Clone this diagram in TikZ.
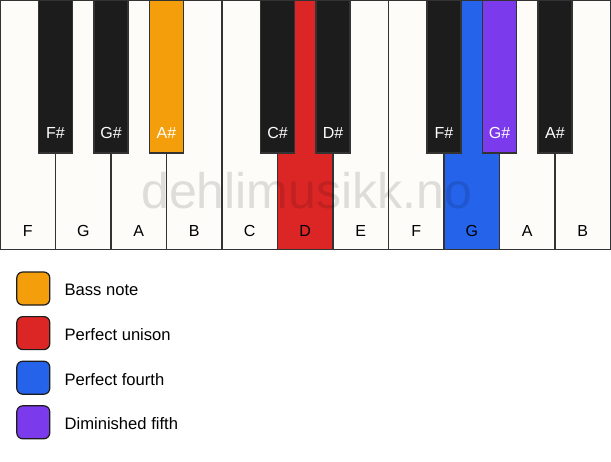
\documentclass[tikz,border=0pt]{standalone}
\usepackage{fontspec}
\setmainfont{Liberation Sans}
\usetikzlibrary{positioning}

\definecolor{keywhite}{HTML}{FDFCF8}
\definecolor{keyblack}{HTML}{1C1C1C}
\definecolor{keyline}{HTML}{333333}
\definecolor{bassnote}{HTML}{F59E0B}
\definecolor{unison}{HTML}{DC2626}
\definecolor{fourth}{HTML}{2563EB}
\definecolor{dimfifth}{HTML}{7C3AED}

\tikzset{
  whitekey/.style={draw=keyline, line width=1.2pt},
  blackkey/.style={draw=keyline, line width=1.2pt},
  keylabel/.style={font=\fontsize{16}{19}\selectfont, inner sep=0pt},
  legendbox/.style={draw=keyblack, line width=1.2pt, rounded corners=6pt, minimum size=33pt, inner sep=0pt},
  legendtext/.style={font=\fontsize{16.6}{20}\selectfont, inner sep=0pt},
}

\begin{document}
\begin{tikzpicture}[x=1pt, y=-1pt]
\useasboundingbox (0,0) rectangle (611,461);
\fill[white] (0,0) rectangle (611,461);
% white keys
\foreach \n/\l/\c in {0/F/keywhite, 1/G/keywhite, 2/A/keywhite, 3/B/keywhite,
  4/C/keywhite, 5/D/unison, 6/E/keywhite, 7/F/keywhite, 8/G/fourth,
  9/A/keywhite, 10/B/keywhite} {
  \draw[whitekey, fill=\c] (\n*55.5,0) rectangle ({(\n+1)*55.5},249.5);
  \node[keylabel] (w\n) at ({(\n+0.5)*55.5},230.5) {\l};
}
% watermark
\node[font=\fontsize{50}{60}\selectfont, text=black, text opacity=0.12, inner sep=0pt,
  anchor=base] (mark) at (306.7,208) {dehlimusikk.no};
% black keys
\foreach \n/\l/\c in {1/F\#/keyblack, 2/G\#/keyblack, 3/A\#/bassnote,
  5/C\#/keyblack, 6/D\#/keyblack, 8/F\#/keyblack, 9/G\#/dimfifth,
  10/A\#/keyblack} {
  \draw[blackkey, fill=\c] ({\n*55.5-17},0) rectangle ({\n*55.5+17},153);
  \node[keylabel, text=white] (b\n) at (\n*55.5,133.3) {\l};
}
% legend
\foreach \i/\c/\t in {0/bassnote/Bass note, 1/unison/Perfect unison,
  2/fourth/Perfect fourth, 3/dimfifth/Diminished fifth} {
  \node[legendbox, fill=\c] (lg\i) at (33.3,{288.5+\i*44.6}) {};
  \node[legendtext, right=14pt of lg\i, yshift=-1.5pt] (lt\i) {\t};
}
\end{tikzpicture}
\end{document}
